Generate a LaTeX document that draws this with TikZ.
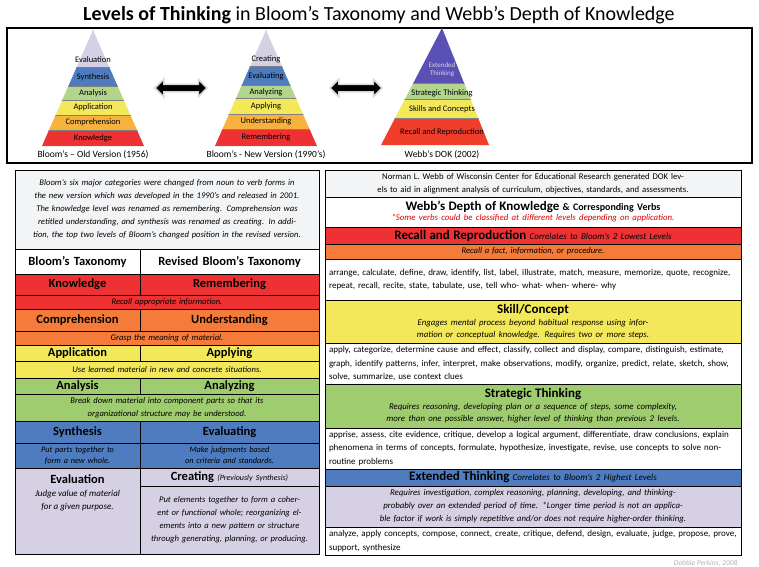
\documentclass[tikz,border=0pt]{standalone}
\usepackage{fontspec}
\setmainfont{Carlito}
\usetikzlibrary{positioning}
\usetikzlibrary{shapes.arrows}

\definecolor{bred}{HTML}{EE3233}
\definecolor{borange}{HTML}{F47B3A}
\definecolor{byellow}{HTML}{F3E85A}
\definecolor{bgreen}{HTML}{9ECC6E}
\definecolor{bblue}{HTML}{4E7CBF}
\definecolor{blav}{HTML}{D6D0E4}
\definecolor{bgray}{HTML}{F3F4F6}
\definecolor{pyorange}{HTML}{F7B23E}
\definecolor{pypurple}{HTML}{5A50B4}

\tikzset{
  cell/.style={draw=black, line width=0.6pt, anchor=north west, inner sep=0pt, outer sep=0pt},
  layer/.style={font=\fontsize{8.5}{9}\selectfont, inner sep=0pt},
  pyrcap/.style={font=\fontsize{9.5}{11}\selectfont},
  head/.style={font=\fontsize{12.5}{14}\selectfont\bfseries},
  note/.style={font=\fontsize{8.6}{13}\selectfont\itshape},
  verbs/.style={font=\fontsize{9}{13.5}\selectfont}
}

% cell: name, x, y, width, height, fill, style, text
\newcommand{\cell}[8]{%
  \pgfmathsetmacro{\cellw}{#4-8}%
  \node[cell, fill=#6, minimum width=#4pt, minimum height=#5pt, text width=\cellw pt, #7]
    (#1) at (#2,#3) {#8};}

\begin{document}
\begin{tikzpicture}[x=1pt, y=-1pt, line width=0.5pt]
  \useasboundingbox (0,0) rectangle (759,566);

  % Title
  \node (title) at (379,15) {\fontsize{20}{22}\selectfont\textbf{Levels of Thinking} in Bloom's Taxonomy and Webb's Depth of Knowledge};
  \draw[line width=2.5pt] (7,28) rectangle (752,163);

  % Pyramids
  \begin{scope}
    \clip (93,30) -- (144,146) -- (42,146) -- cycle;
    \foreach \ya/\yb/\col in {30/67/blav, 67/86/bblue, 86/100/bgreen!80, 100/115/byellow, 115/130/pyorange, 130/146/bred}
      \draw[fill=\col, draw=gray] (30,\ya) rectangle (160,\yb);
  \end{scope}
  \foreach \yy/\txt [count=\i] in {60/Evaluation, 77/Synthesis, 93/Analysis, 107/Application, 122/Comprehension, 138/Knowledge}
    \node[layer] (oldlev\i) at (93,\yy) {\txt};
  \node[pyrcap] (oldcap) at (93,155) {Bloom's – Old Version (1956)};

  \begin{scope}
    \clip (266,30) -- (317,146) -- (215,146) -- cycle;
    \foreach \ya/\yb/\col in {30/66/blav, 66/85/bblue, 85/98/bgreen!80, 98/114/byellow, 114/129/pyorange, 129/146/bred}
      \draw[fill=\col, draw=gray] (200,\ya) rectangle (330,\yb);
  \end{scope}
  \foreach \yy/\txt [count=\i] in {59/Creating, 76/Evaluating, 92/Analyzing, 106/Applying, 121/Understanding, 137/Remembering}
    \node[layer] (newlev\i) at (266,\yy) {\txt};
  \node[pyrcap] (newcap) at (266,155) {Bloom's - New Version (1990's)};

  \begin{scope}
    \clip (442,28) -- (489,145) -- (381,145) -- cycle;
    \foreach \ya/\yb/\col in {28/83/pypurple, 83/99/bgreen!80, 99/118/byellow, 118/145/bred!85!orange}
      \draw[fill=\col, draw=gray] (370,\ya) rectangle (500,\yb);
  \end{scope}
  \node[layer, align=center, text=blav, font=\fontsize{7}{8}\selectfont] (doklev1) at (442,70) {Extended\\Thinking};
  \foreach \yy/\txt [count=\i from 2] in {93/Strategic Thinking, 109/Skills and Concepts, 132/Recall and Reproduction}
    \node[layer] (doklev\i) at (442,\yy) {\txt};
  \node[pyrcap] (dokcap) at (442,155) {Webb's DOK (2002)};

  % Arrows
  \node[double arrow, fill=black, draw=gray!30, line width=1.5pt, minimum height=52pt,
        inner sep=3pt, double arrow head extend=5pt] (arrowA) at (181,88) {};
  \node[double arrow, fill=black, draw=gray!30, line width=1.5pt, minimum height=52pt,
        inner sep=3pt, double arrow head extend=5pt] (arrowB) at (356,88) {};

  % Bloom table
  \cell{bintro}{15}{170}{304}{79}{bgray}{align=center, note}{Bloom's six major categories were changed from noun to verb forms in the new version which was developed in the 1990's and released in 2001. The knowledge level was renamed as remembering. Comprehension was retitled understanding, and synthesis was renamed as creating. In addition, the top two levels of Bloom's changed position in the revised version.}
  \cell{bhead}{15}{249}{125}{25}{white}{align=center, head}{Bloom's Taxonomy}
  \cell{rhead}{140}{249}{179}{25}{white}{align=center, head}{Revised Bloom's Taxonomy}
  \cell{bknow}{15}{274}{125}{21}{bred}{align=center, head}{Knowledge}
  \cell{rknow}{140}{274}{179}{21}{bred}{align=center, head}{Remembering}
  \cell{dknow}{15}{295}{304}{14}{bred}{align=center, note}{Recall appropriate information.}
  \cell{bcomp}{15}{309}{125}{22}{borange}{align=center, head}{Comprehension}
  \cell{rcomp}{140}{309}{179}{22}{borange}{align=center, head}{Understanding}
  \cell{dcomp}{15}{331}{304}{14}{borange}{align=center, note}{Grasp the meaning of material.}
  \cell{bappl}{15}{345}{125}{16}{byellow}{align=center, head}{Application}
  \cell{rappl}{140}{345}{179}{16}{byellow}{align=center, head}{Applying}
  \cell{dappl}{15}{361}{304}{17}{byellow}{align=center, note}{Use learned material in new and concrete situations.}
  \cell{banal}{15}{378}{125}{16}{bgreen}{align=center, head}{Analysis}
  \cell{ranal}{140}{378}{179}{16}{bgreen}{align=center, head}{Analyzing}
  \cell{danal}{15}{394}{304}{27}{bgreen}{align=center, note}{Break down material into component parts so that its\\organizational structure may be understood.}
  \cell{bsynt}{15}{421}{125}{22}{bblue}{align=center, head}{Synthesis}
  \cell{rsynt}{140}{421}{179}{22}{bblue}{align=center, head}{Evaluating}
  \cell{dbsynt}{15}{443}{125}{25}{bblue}{align=center, note, font=\fontsize{8.3}{11}\selectfont\itshape}{Put parts together to form a new whole.}
  \cell{drsynt}{140}{443}{179}{25}{bblue}{align=center, note, font=\fontsize{8.3}{11}\selectfont\itshape}{Make judgments based on criteria and standards.}
  \cell{beval}{15}{468}{125}{86}{blav}{}{}
  \node[below=3pt of beval.north, align=center, font=\fontsize{9}{13}\selectfont\itshape] (bevaltxt)
    {{\fontsize{12.5}{14}\selectfont\bfseries\upshape Evaluation}\\Judge value of material\\for a given purpose.};
  \cell{reval}{140}{468}{179}{18}{blav}{align=center}{{\fontsize{12.5}{14}\selectfont\bfseries Creating} {\fontsize{8}{9}\selectfont\itshape (Previously Synthesis)}}
  \cell{deval}{140}{486}{179}{68}{blav}{align=center, note}{Put elements together to form a coherent or functional whole; reorganizing elements into a new pattern or structure through generating, planning, or producing.}

  % Webb table
  \cell{wintro}{325}{170}{416}{27}{bgray}{align=center, font=\fontsize{8.7}{12.5}\selectfont}{Norman L. Webb of Wisconsin Center for Educational Research generated DOK levels to aid in alignment analysis of curriculum, objectives, standards, and assessments.}
  \cell{whead}{325}{197}{416}{30}{white}{align=center}{{\fontsize{13}{15}\selectfont\bfseries Webb's Depth of Knowledge} {\fontsize{10}{15}\selectfont\bfseries \& Corresponding Verbs}\\[-2pt]{\fontsize{8.8}{11}\selectfont\itshape\color{red!85!black} *Some verbs could be classified at different levels depending on application.}}
  \cell{rrhead}{325}{227}{416}{17}{bred}{align=center}{{\fontsize{13}{15}\selectfont\bfseries Recall and Reproduction} {\fontsize{9}{11}\selectfont\itshape Correlates to Bloom's 2 Lowest Levels}}
  \cell{rrdesc}{325}{244}{416}{15}{borange}{align=center, note}{Recall a fact, information, or procedure.}
  \cell{rrverbs}{325}{259}{416}{41}{white}{align=left, verbs}{arrange, calculate, define, draw, identify, list, label, illustrate, match, measure, memorize, quote, recognize, repeat, recall, recite, state, tabulate, use, tell who- what- when- where- why}
  \cell{skhead}{325}{300}{416}{43}{byellow}{align=center}{{\fontsize{13}{16}\selectfont\bfseries Skill/Concept}\\{\fontsize{8.8}{14}\selectfont\itshape Engages mental process beyond habitual response using information or conceptual knowledge. Requires two or more steps.}}
  \cell{skverbs}{325}{343}{416}{41}{white}{align=left, verbs}{apply, categorize, determine cause and effect, classify, collect and display, compare, distinguish, estimate, graph, identify patterns, infer, interpret, make observations, modify, organize, predict, relate, sketch, show, solve, summarize, use context clues}
  \cell{sthead}{325}{384}{416}{44}{bgreen}{align=center}{{\fontsize{13}{16}\selectfont\bfseries Strategic Thinking}\\{\fontsize{8.8}{14}\selectfont\itshape Requires reasoning, developing plan or a sequence of steps, some complexity, more than one possible answer, higher level of thinking than previous 2 levels.}}
  \cell{stverbs}{325}{428}{416}{41}{white}{align=left, verbs}{apprise, assess, cite evidence, critique, develop a logical argument, differentiate, draw conclusions, explain phenomena in terms of concepts, formulate, hypothesize, investigate, revise, use concepts to solve non-routine problems}
  \cell{exhead}{325}{469}{416}{17}{bblue}{align=center}{{\fontsize{13}{15}\selectfont\bfseries Extended Thinking} {\fontsize{9}{11}\selectfont\itshape Correlates to Bloom's 2 Highest Levels}}
  \cell{exdesc}{325}{486}{416}{41}{blav}{align=center, font=\fontsize{8.8}{13}\selectfont\itshape}{Requires investigation, complex reasoning, planning, developing, and thinking-probably over an extended period of time. *Longer time period is not an applicable factor if work is simply repetitive and/or does not require higher-order thinking.}
  \cell{exverbs}{325}{527}{416}{28}{white}{align=left, verbs}{analyze, apply concepts, compose, connect, create, critique, defend, design, evaluate, judge, propose, prove, support, synthesize}

  \node[anchor=east, text=gray!60, font=\fontsize{7.5}{9}\selectfont\itshape] (credit) at (741,563) {Debbie Perkins, 2008};
\end{tikzpicture}
\end{document}
